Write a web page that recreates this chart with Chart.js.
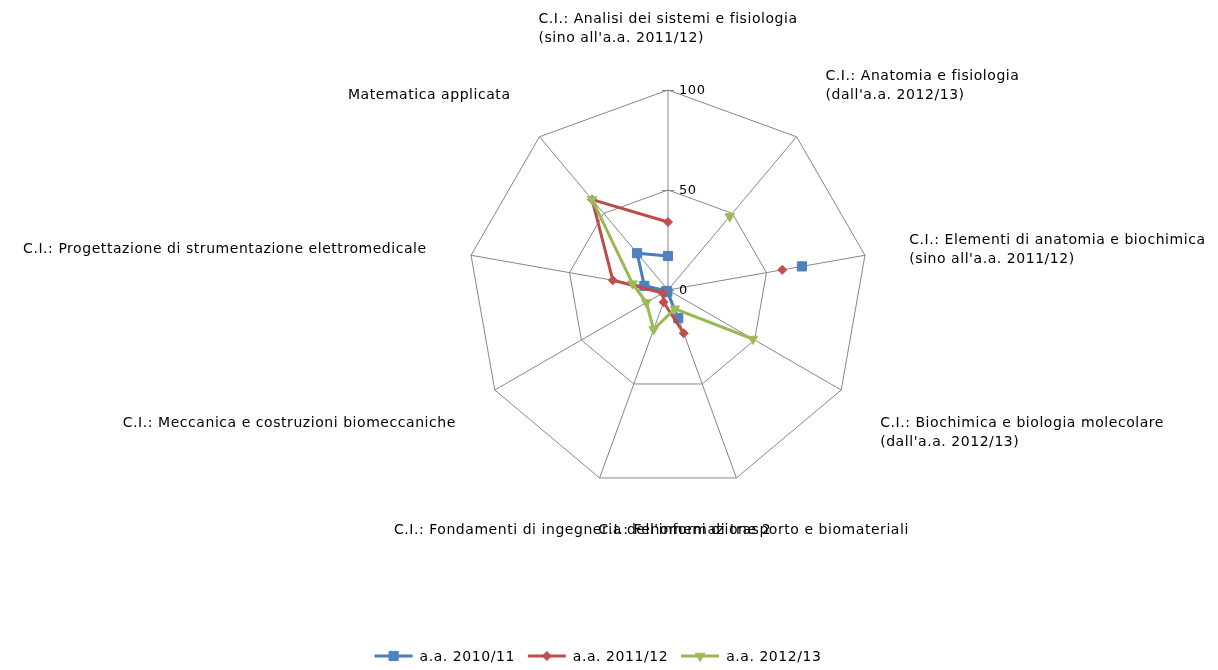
<!DOCTYPE html>
<html>
<head>
<meta charset="utf-8">
<title>Radar</title>
<script src="https://cdn.jsdelivr.net/npm/chart.js@4.4.0/dist/chart.umd.min.js"></script>
<style>
    html, body { margin: 0; padding: 0; background: #ffffff; }
    #grafico { display: block; }
</style>
</head>
<body>
<canvas id="grafico" width="1218" height="670"></canvas>
<script>
// dati
const categorie = [
    ["C.I.: Analisi dei sistemi e fisiologia", "(sino all'a.a. 2011/12)"],
    ["C.I.: Anatomia e fisiologia", "(dall'a.a. 2012/13)"],
    ["C.I.: Elementi di anatomia e biochimica", "(sino all'a.a. 2011/12)"],
    ["C.I.: Biochimica e biologia molecolare", "(dall'a.a. 2012/13)"],
    "C.I.: Fenomeni di trasporto e biomateriali",
    "C.I.: Fondamenti di ingegneria dell'informazione 2",
    "C.I.: Meccanica e costruzioni biomeccaniche",
    "C.I.: Progettazione di strumentazione elettromedicale",
    "Matematica applicata"
];
const serie = ["a.a. 2010/11", "a.a. 2011/12", "a.a. 2012/13"];
const valori2010 = [17, null, 68, null, 15, 1, 1, 12, 24];
const valori2011 = [34, null, 58, null, 23, 6.5, 3, 28, 59];
const valori2012 = [null, 48, null, 49, 10, 21, 12.5, 18, 59];
const tickValori = [0, 50, 100];

const FONT = '14px "DejaVu Sans"';
const SPAZIO = '0.55px';
const GRIGIO = '#868686';

function disegnaTacche(chart) {
    const ctx = chart.ctx;
    const r = chart.scales.r;
    ctx.save();
    ctx.strokeStyle = GRIGIO;
    ctx.lineWidth = 1;
    tickValori.forEach(v => {
        const y = r.yCenter - r.getDistanceFromCenterForValue(v) + 0.5;
        ctx.beginPath();
        ctx.moveTo(r.xCenter - 6, y);
        ctx.lineTo(r.xCenter + 6, y);
        ctx.stroke();
    });
    ctx.restore();
}

function disegnaTesti(chart) {
    const ctx = chart.ctx;
    const r = chart.scales.r;
    ctx.save();
    ctx.fillStyle = '#000000';
    ctx.textBaseline = 'middle';
    ctx.textAlign = 'left';

    // valori dell'asse
    ctx.font = '13px "DejaVu Sans"';
    ctx.letterSpacing = SPAZIO;
    tickValori.forEach(v => {
        const y = r.yCenter - r.getDistanceFromCenterForValue(v) + 1;
        ctx.fillText(String(v), r.xCenter + 11, y);
    });

    // etichette delle categorie
    ctx.font = FONT;
    chart.data.labels.forEach((lab, i) => {
        const righe = Array.isArray(lab) ? lab : [lab];
        const ang = r.getIndexAngle(i);
        const s = Math.sin(ang), c = Math.cos(ang);
        const p = r.getPointPosition(i, r.drawingArea + 30);
        const w = Math.max(...righe.map(t => ctx.measureText(t).width));
        const h = righe.length * 19;
        let x;
        if (Math.abs(s) < 0.5) x = p.x + 20 * s - w / 2;
        else if (s > 0) x = p.x + 15 * s;
        else x = p.x + 15 * s - w;
        let cy = p.y - c * 14 + 2;
        if (Math.abs(c) > 0.3) cy -= Math.sign(c) * h / 2;
        righe.forEach((t, k) => ctx.fillText(t, x, cy - h / 2 + 19 * (k + 0.5)));
    });
    ctx.restore();
}

function disegnaLegenda(chart) {
    const ctx = chart.ctx;
    ctx.save();
    ctx.font = FONT;
    ctx.letterSpacing = SPAZIO;
    ctx.textBaseline = 'middle';
    ctx.textAlign = 'left';
    const items = chart.data.datasets.map(ds => ({ ds: ds, w: 38 + 7 + ctx.measureText(ds.label).width }));
    let tot = 0;
    items.forEach(it => tot += it.w);
    tot += 13 * (items.length - 1);
    let x = 598 - tot / 2;
    const y = 656;
    items.forEach(it => {
        const ds = it.ds;
        ctx.strokeStyle = ds.borderColor;
        ctx.lineWidth = 3;
        ctx.beginPath();
        ctx.moveTo(x, y);
        ctx.lineTo(x + 38, y);
        ctx.stroke();
        ctx.fillStyle = ds.pointBackgroundColor;
        ctx.strokeStyle = ds.pointBorderColor;
        ctx.lineWidth = 1;
        Chart.helpers.drawPoint(ctx, {
            pointStyle: ds.pointStyle,
            rotation: ds.pointRotation || 0,
            radius: ds.pointRadius,
            borderWidth: 1
        }, x + 19, y);
        ctx.fillStyle = '#000000';
        ctx.fillText(ds.label, x + 45, y + 1);
        x += it.w + 13;
    });
    ctx.restore();
}

const extra = {
    id: 'extra',
    beforeDatasetsDraw(chart) { disegnaTacche(chart); },
    afterDraw(chart) {
        disegnaTesti(chart);
        disegnaLegenda(chart);
    }
};

const ctx = document.getElementById('grafico').getContext('2d');
new Chart(ctx, {
    type: 'radar',
    data: {
        labels: categorie,
        datasets: [{
            label: serie[0],
            data: valori2010,
            borderColor: '#4A7EBB',
            pointBackgroundColor: '#4F81BD',
            pointBorderColor: '#4F81BD',
            pointStyle: 'rect',
            pointRadius: 6.5,
            order: 3
        }, {
            label: serie[1],
            data: valori2011,
            borderColor: '#BE4B48',
            pointBackgroundColor: '#C0504D',
            pointBorderColor: '#C0504D',
            pointStyle: 'rectRot',
            pointRadius: 4.5,
            order: 2
        }, {
            label: serie[2],
            data: valori2012,
            borderColor: '#98B954',
            pointBackgroundColor: '#9BBB59',
            pointBorderColor: '#9BBB59',
            pointStyle: 'triangle',
            pointRotation: 180,
            pointRadius: 5.5,
            order: 1
        }]
    },
    options: {
        responsive: false,
        animation: false,
        devicePixelRatio: 1,
        layout: { padding: { top: 90, bottom: 180, left: 118, right: 0 } },
        elements: {
            line: { borderWidth: 3, tension: 0, fill: false },
            point: { borderWidth: 1, hoverRadius: 6 }
        },
        spanGaps: false,
        scales: {
            r: {
                min: 0,
                max: 100,
                ticks: { display: false, stepSize: 50 },
                grid: { color: GRIGIO, lineWidth: 1 },
                angleLines: { color: GRIGIO, lineWidth: 1 },
                pointLabels: { display: false }
            }
        },
        plugins: {
            legend: { display: false },
            tooltip: { enabled: false }
        }
    },
    plugins: [extra]
});
</script>
</body>
</html>
